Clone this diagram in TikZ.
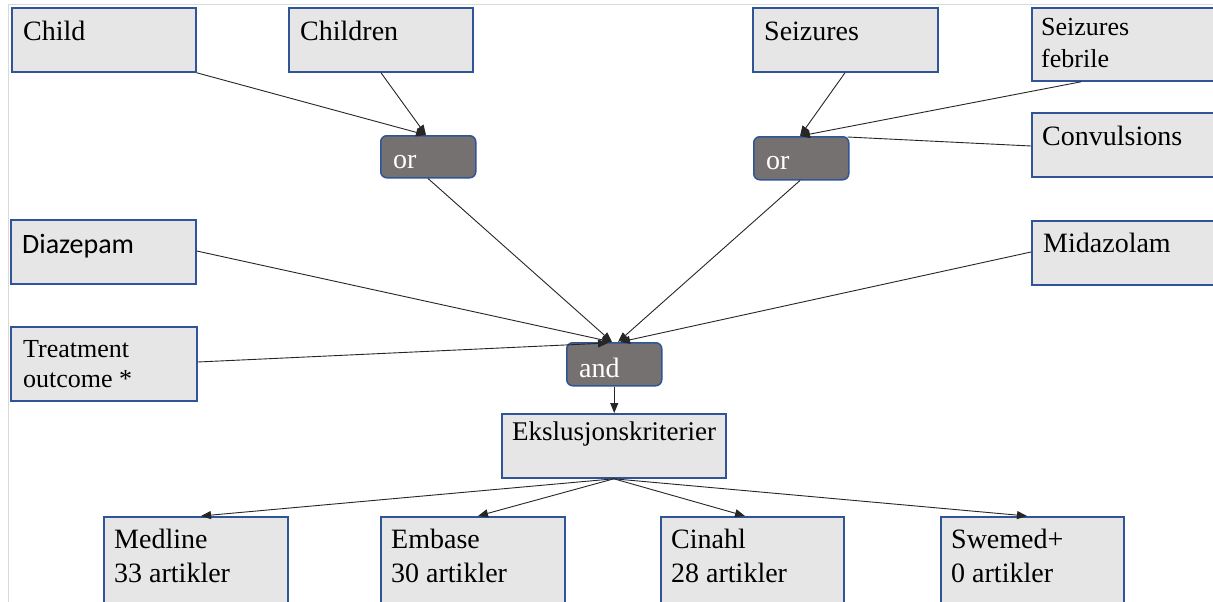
\documentclass[tikz,border=0pt]{standalone}
\usepackage{fontspec}
\setmainfont{Liberation Serif}
\newfontfamily\tnr{Liberation Serif}
\newfontfamily\calib{Carlito}
\usetikzlibrary{arrows.meta,calc}
\definecolor{boxfill}{HTML}{E7E6E6}
\definecolor{boxline}{HTML}{2F5597}
\definecolor{opfill}{HTML}{767171}
\definecolor{framegrey}{HTML}{D9D9D9}
\begin{document}
\begin{tikzpicture}[x=1pt,y=-1pt,
  box/.style={draw=boxline,line width=1.8pt,fill=boxfill,rectangle,anchor=north west,inner sep=0pt,minimum width=184pt,minimum height=64pt},
  opbox/.style={draw=boxline,line width=1.5pt,fill=opfill,rounded corners=6pt,anchor=north west,inner sep=0pt,minimum width=95pt,minimum height=42pt},
  lbl/.style={anchor=base west,inner sep=0pt,font=\tnr\fontsize{28}{32}\selectfont},
  slbl/.style={lbl,font=\tnr\fontsize{26}{30}\selectfont},
  oplbl/.style={lbl,text=white},
  conn/.style={line width=0.9pt,draw=black!85},
  arr/.style={conn,-{Triangle[length=10pt,width=8pt]}}
]
\clip (0,0) rectangle (1213,602);
\fill[white] (0,0) rectangle (1213,602);
\draw[framegrey,line width=1pt] (8,602) -- (8,5) -- (1213,5);

% input boxes
\node[box] (child) at (11,7) {};
\node[lbl] (childT) at ($(child.north west)+(12,34)$) {Child};
\node[box] (children) at (288,7) {};
\node[lbl] (childrenT) at ($(children.north west)+(12,34)$) {Children};
\node[box,minimum width=185pt] (seiz) at (752,7) {};
\node[lbl] (seizT) at ($(seiz.north west)+(12,34)$) {Seizures};
\node[box,minimum width=190pt,minimum height=73pt] (febr) at (1031,7) {};
\node[slbl] (febrT1) at ($(febr.north west)+(10,29)$) {Seizures};
\node[slbl] (febrT2) at ($(febr.north west)+(10,61)$) {febrile};
\node[box,minimum width=190pt] (conv) at (1031,112) {};
\node[lbl] (convT) at ($(conv.north west)+(11,33)$) {Convulsions};
\node[box,minimum width=185pt] (diaz) at (10,219) {};
\node[lbl,font=\calib\fontsize{28}{32}\selectfont] (diazT) at ($(diaz.north west)+(12,34)$) {Diazepam};
\node[box,minimum width=190pt] (mida) at (1031,220) {};
\node[lbl] (midaT) at ($(mida.north west)+(12,32)$) {Midazolam};
\node[box,minimum width=186pt,minimum height=74pt] (treat) at (10,326) {};
\node[slbl] (treatT1) at ($(treat.north west)+(13,31)$) {Treatment};
\node[slbl] (treatT2) at ($(treat.north west)+(13,61)$) {outcome *};

% operators
\node[opbox] (or1) at (380,135) {};
\node[oplbl] (or1T) at ($(or1.north west)+(13,33)$) {or};
\node[opbox,minimum height=43pt] (or2) at (753,136) {};
\node[oplbl] (or2T) at ($(or2.north west)+(13,33)$) {or};
\node[opbox,minimum height=43pt] (and) at (566,342) {};
\node[oplbl] (andT) at ($(and.north west)+(13,35)$) {and};

% exclusion
\node[box,minimum width=224pt] (eks) at (501,413) {};
\node[lbl,font=\tnr\fontsize{27}{31}\selectfont] (eksT) at ($(eks.north west)+(11,27)$) {Ekslusjonskriterier};

% databases
\node[box,minimum width=184pt,minimum height=100pt] (med) at (103,516) {};
\node[lbl] (medT1) at ($(med.north west)+(11,32)$) {Medline};
\node[lbl] (medT2) at ($(med.north west)+(11,66)$) {33 artikler};
\node[box,minimum width=184pt,minimum height=100pt] (emb) at (380,516) {};
\node[lbl] (embT1) at ($(emb.north west)+(11,32)$) {Embase};
\node[lbl] (embT2) at ($(emb.north west)+(11,66)$) {30 artikler};
\node[box,minimum width=183pt,minimum height=100pt] (cin) at (660,516) {};
\node[lbl] (cinT1) at ($(cin.north west)+(11,32)$) {Cinahl};
\node[lbl] (cinT2) at ($(cin.north west)+(11,66)$) {28 artikler};
\node[box,minimum width=183pt,minimum height=100pt] (swe) at (940,516) {};
\node[lbl] (sweT1) at ($(swe.north west)+(11,32)$) {Swemed+};
\node[lbl] (sweT2) at ($(swe.north west)+(11,66)$) {0 artikler};

% connector end points
\coordinate (or1in) at ($(or1.north west)+(46,0)$);
\coordinate (or2in) at ($(or2.north west)+(47,0)$);
\coordinate (or2cr) at ($(or2.north east)+(-2,1)$);
\coordinate (andinA) at ($(and.north west)+(42,1)$);
\coordinate (andinB) at ($(and.north west)+(46,0)$);
\coordinate (andinC) at ($(and.north west)+(52,0)$);
\coordinate (andinD) at ($(and.north west)+(54,0)$);

\draw[arr] (child.south east) -- (or1in);
\draw[arr] ($(children.south west)+(93,0)$) -- (or1in);
\draw[arr] ($(seiz.south west)+(93,0)$) -- (or2in);
\draw[arr] ($(febr.south west)+(50,0)$) -- (or2in);
\draw[conn] ($(conv.north west)+(0,34)$) -- (or2cr);
\draw[arr] ($(or1.south west)+(48,0)$) -- (andinB);
\draw[arr] ($(or2.south west)+(47,0)$) -- (andinC);
\draw[arr] ($(diaz.north east)+(0,32)$) -- (andinB);
\draw[arr] ($(treat.north east)+(0,36)$) -- (andinA);
\draw[arr] ($(mida.north west)+(0,32)$) -- (andinD);
\draw[arr] (and.south) -- (eks.north -| and.south);
\draw[arr] (eks.south) -- ($(med.north west)+(98,0)$);
\draw[arr] (eks.south) -- ($(emb.north west)+(98,0)$);
\draw[arr] (eks.south) -- ($(cin.north west)+(85,0)$);
\draw[arr] (eks.south) -- ($(swe.north west)+(87,0)$);
\end{tikzpicture}
\end{document}
